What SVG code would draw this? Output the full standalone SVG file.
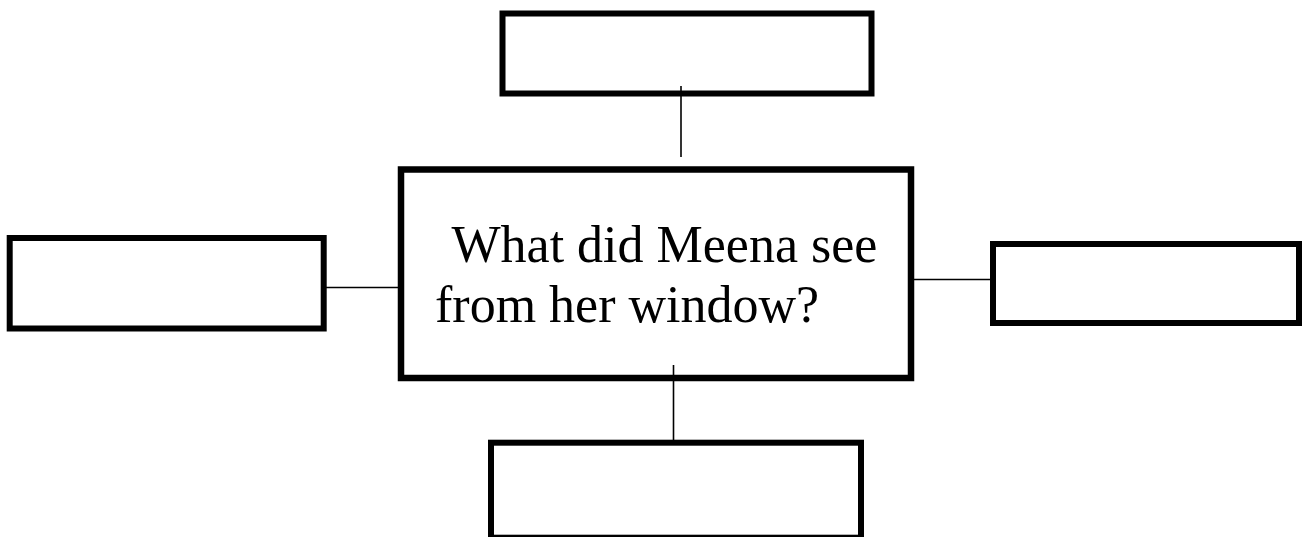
<svg xmlns="http://www.w3.org/2000/svg" width="1303" height="537" viewBox="0 0 1303 537">
<style>
.box{fill:#fff;stroke:#000;stroke-width:6}
.conn{stroke:#000;stroke-width:1.6;fill:none}
.t{font-family:"Liberation Serif","Times New Roman",serif;font-size:52px;fill:#000}
</style>
<rect width="1303" height="537" fill="#fff"/>
<g id="top"><rect class="box" x="502.5" y="13.5" width="369" height="80"/></g>
<g id="left"><rect class="box" x="9.7" y="238" width="314" height="90.5"/></g>
<g id="right"><rect class="box" x="993" y="244" width="306" height="79"/></g>
<g id="bottom"><rect class="box" x="491" y="442.7" width="370" height="95"/></g>
<g id="center">
<rect class="box" x="401" y="169.5" width="510" height="208.5" style="stroke-width:6.5"/>
<text class="t" x="451.5" y="262">What did Meena see</text>
<text class="t" x="435" y="322">from her window?</text>
</g>
<g id="connectors">
<line class="conn" x1="681" y1="86" x2="681" y2="157"/>
<line class="conn" x1="324" y1="287.5" x2="398" y2="287.5"/>
<line class="conn" x1="914" y1="279.5" x2="990" y2="279.5"/>
<line class="conn" x1="673.5" y1="365" x2="673.5" y2="440"/>
</g>
</svg>
